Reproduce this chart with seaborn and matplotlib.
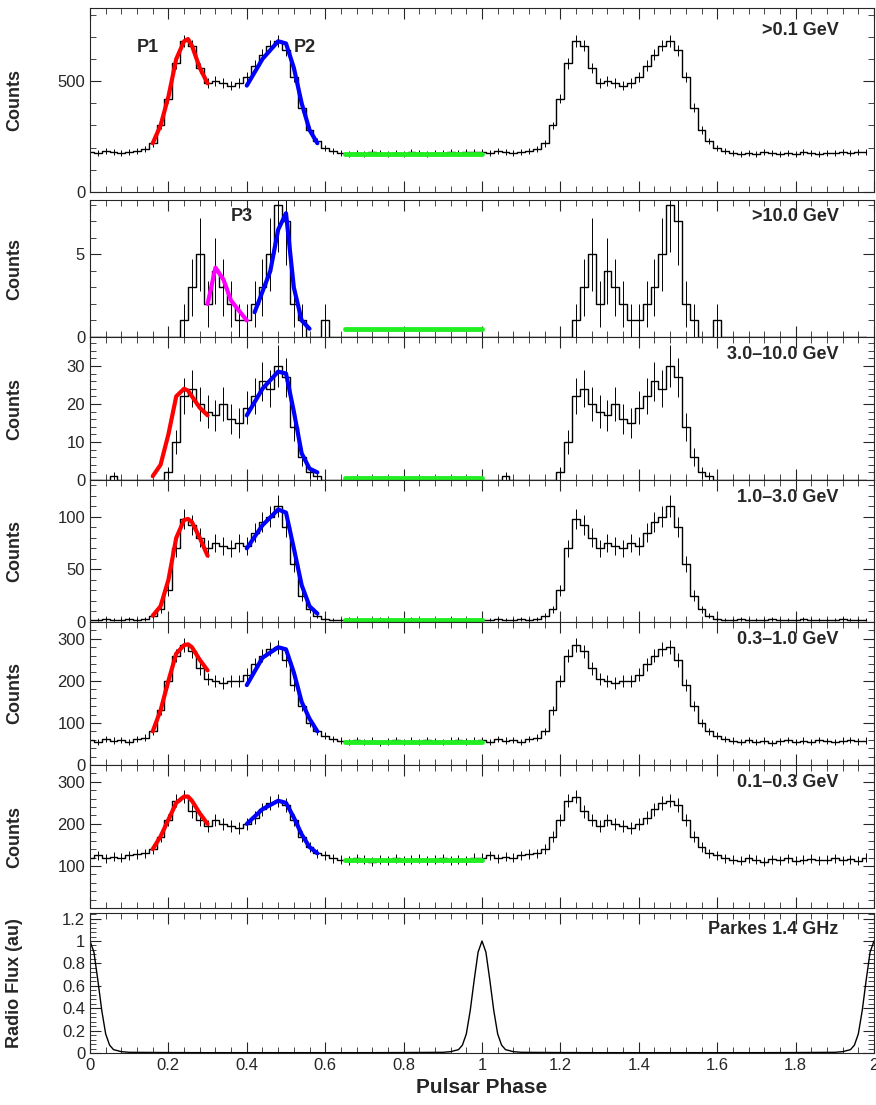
import numpy as np
import pandas as pd
import matplotlib
matplotlib.use("Agg")
import matplotlib.pyplot as plt
import seaborn as sns
from matplotlib.ticker import MultipleLocator, AutoMinorLocator, FixedLocator

sns.set_style("ticks")
plt.rcParams['font.family'] = ['Liberation Sans', 'DejaVu Sans']

bin_width = 0.02
phase = [round(i * bin_width, 2) for i in range(50)]

c_01 = [180,175,185,180,175,180,185,195,220,300,420,580,680,660,560,490,500,490,480,490,
        520,570,620,660,680,640,520,380,280,230,200,185,175,170,175,170,180,175,170,175,
        170,180,175,170,175,175,180,175,180,180]
c_10 = [0,0,0,0,0,0,0,0,0,0,0,0,1,3,5,2,4,3,2,1,1,2,3,5,8,7,2,1,0,0,1,
        0,0,0,0,0,0,0,0,0,0,0,0,0,0,0,0,0,0,0]
c_3_10 = [0,0,0,1,0,0,0,0,0,0,2,10,22,24,20,18,17,20,16,15,19,22,26,24,30,27,14,6,2,1,
          0,0,0,0,0,0,0,0,0,0,0,0,0,0,0,0,0,0,0,0]
c_1_3 = [2,2,3,2,2,3,2,3,6,12,30,70,98,92,80,70,75,72,70,75,72,85,95,100,110,90,55,25,12,6,
         3,2,2,3,2,2,2,3,2,2,2,3,2,2,2,2,3,2,2,2]
c_03_1 = [60,55,62,58,60,55,62,65,80,130,200,260,285,270,230,205,200,195,200,200,215,240,260,275,280,250,190,140,100,80,
          70,62,58,55,60,55,58,52,56,60,55,58,55,60,57,55,58,60,56,58]
c_01_03 = [120,125,118,122,120,125,128,130,140,170,210,255,265,230,210,195,210,200,195,190,200,215,235,250,255,245,210,170,145,130,
           125,118,115,112,118,115,110,116,114,118,112,115,117,113,115,118,114,116,112,120]

radio_phase = [0,0.01,0.02,0.03,0.04,0.05,0.06,0.08,0.1,0.2,0.3,0.4,0.5,0.6,0.7,0.8,0.9,0.92,0.94,0.95,0.96,0.97,0.98,0.99,1.0]
radio_flux = [1.0,0.9,0.65,0.38,0.17,0.07,0.03,0.012,0.006,0.004,0.003,0.003,0.003,0.003,0.003,0.004,0.006,0.012,0.03,0.07,0.17,0.38,0.65,0.9,1.0]

red_x = [0.16,0.18,0.20,0.22,0.24,0.25,0.26,0.28,0.30]
red_01 = [220,300,430,600,680,690,660,560,490]
red_3_10 = [1,4,12,22,24,23.5,22,19,17]
red_1_3 = [6,15,40,80,97,98,95,80,63]
red_03_1 = [80,130,200,265,285,287,280,250,225]
red_01_03 = [140,170,210,250,265,265,255,225,200]
blue_x = [0.40,0.44,0.48,0.50,0.52,0.54,0.56,0.58]
blue_01 = [480,600,680,670,560,400,280,220]
blue_3_10 = [17,24,28.5,28,18,7,3,2]
blue_1_3 = [70,92,107,104,70,35,15,8]
blue_03_1 = [190,255,280,275,220,150,110,80]
blue_01_03 = [200,235,255,250,215,175,145,130]
blue_10_x = [0.42,0.46,0.48,0.50,0.52,0.54,0.56]
blue_10 = [1.5,4,6.5,7.5,3,1,0.5]
mag_x = [0.30,0.32,0.34,0.36,0.40]
mag_10 = [2,4.2,3.5,2.2,1]
green_x = [0.65,1.0]
green_vals = [170,0.5,0.6,2,55,115]

x_ticks = [0,0.2,0.4,0.6,0.8,1.0,1.2,1.4,1.6,1.8,2.0]
x_ticklabels = ["0","0.2","0.4","0.6","0.8","1","1.2","1.4","1.6","1.8","2"]

panels = [
    (c_01, (0,830), [0,500], ">0.1 GeV", red_01, blue_01, green_vals[0]),
    (c_10, (0,8.3), [0,5], ">10.0 GeV", None, None, green_vals[1]),
    (c_3_10, (0,37.6), [0,10,20,30], "3.0\u201310.0 GeV", red_3_10, blue_3_10, green_vals[2]),
    (c_1_3, (0,135), [0,50,100], "1.0\u20133.0 GeV", red_1_3, blue_1_3, green_vals[3]),
    (c_03_1, (0,340), [0,100,200,300], "0.3\u20131.0 GeV", red_03_1, blue_03_1, green_vals[4]),
    (c_01_03, (0,340), [100,200,300], "0.1\u20130.3 GeV", red_01_03, blue_01_03, green_vals[5]),
]
bounds = [(8,192),(200,337),(337,480),(480,622),(622,765),(765,908),(913,1053)]

fig = plt.figure(figsize=(8.76,11.05), dpi=100)
L, W = 90/876, 784/876
axes = []
for (t, b) in bounds:
    axes.append(fig.add_axes([L, 1-b/1105, W, (b-t)/1105]))

def style(ax, ylim, yticks, last=False):
    ax.set_xlim(0,2)
    ax.set_ylim(*ylim)
    ax.yaxis.set_major_locator(FixedLocator(yticks))
    ax.xaxis.set_major_locator(FixedLocator(x_ticks))
    ax.xaxis.set_minor_locator(AutoMinorLocator(5))
    ax.yaxis.set_minor_locator(AutoMinorLocator(5))
    ax.tick_params(direction='in', which='both', top=True, right=True, labelsize=12)
    ax.tick_params(which='major', length=8)
    ax.tick_params(which='minor', length=4)
    if last:
        ax.set_xticklabels(x_ticklabels)
    else:
        ax.set_xticklabels([])

for i, (cnt, ylim, yt, lab, rc, bc, gv) in enumerate(panels):
    ax = axes[i]
    x = np.array(phase + [p+1 for p in phase])
    y = np.array(cnt + cnt, dtype=float)
    df = pd.DataFrame({"x": x, "y": y})
    sns.lineplot(data=df, x="x", y="y", ax=ax, drawstyle='steps-mid', color='black', lw=1)
    ax.errorbar(x, y, yerr=np.sqrt(y), fmt='none', ecolor='black', elinewidth=0.7)
    if rc is not None:
        sns.lineplot(x=red_x, y=rc, ax=ax, color='red', lw=3, sort=False)
        sns.lineplot(x=blue_x, y=bc, ax=ax, color='blue', lw=3, sort=False)
    else:
        sns.lineplot(x=mag_x, y=mag_10, ax=ax, color='magenta', lw=3, sort=False)
        sns.lineplot(x=blue_10_x, y=blue_10, ax=ax, color='blue', lw=3, sort=False)
    sns.lineplot(x=green_x, y=[gv, gv], ax=ax, color='#22ee22', lw=3.5)
    style(ax, ylim, yt)
    ax.set_xlabel("")
    ax.set_ylabel("Counts", fontsize=13, fontweight='bold')
    ax.text(0.955, 0.88, lab, transform=ax.transAxes, ha='right', va='center', fontsize=13, fontweight='bold')

axes[0].text(0.12, 630, "P1", fontsize=13, fontweight='bold')
axes[0].text(0.52, 630, "P2", fontsize=13, fontweight='bold')
axes[1].text(0.36, 7.0, "P3", fontsize=13, fontweight='bold')

ax = axes[6]
rx = np.array(radio_phase + [p+1 for p in radio_phase[1:]])
ry = np.array(radio_flux + radio_flux[1:])
sns.lineplot(x=rx, y=ry, ax=ax, color='black', lw=1, sort=False)
style(ax, (0,1.25), [0,0.2,0.4,0.6,0.8,1.0,1.2], last=True)
ax.set_yticklabels(["0","0.2","0.4","0.6","0.8","1","1.2"])
ax.set_ylabel("Radio Flux (au)", fontsize=13, fontweight='bold')
ax.set_xlabel("Pulsar Phase", fontsize=15, fontweight='bold')
ax.text(0.955, 0.88, "Parkes 1.4 GHz", transform=ax.transAxes, ha='right', va='center', fontsize=13, fontweight='bold')

for a in axes:
    a.yaxis.set_label_coords(-0.085, 0.5)

fig.savefig("out.png", dpi=100)
